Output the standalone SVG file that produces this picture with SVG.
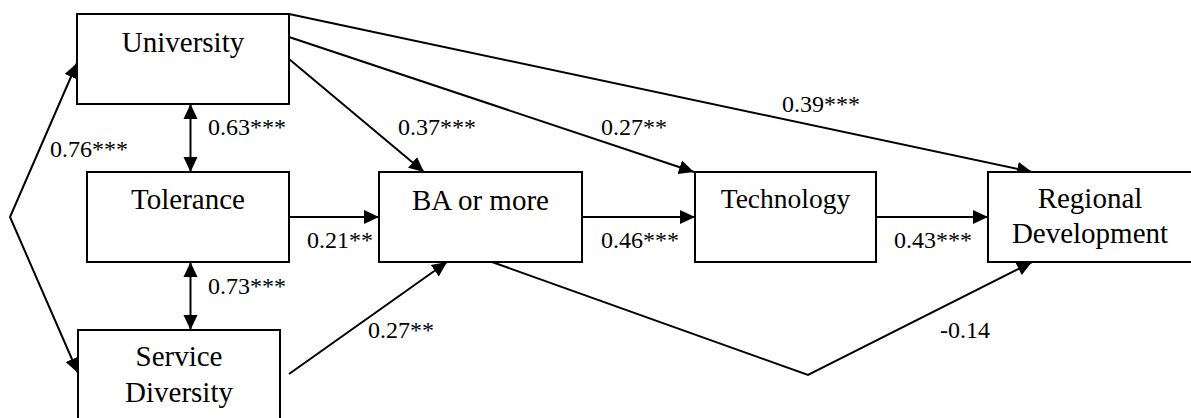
<svg xmlns="http://www.w3.org/2000/svg" width="1191" height="418" viewBox="0 0 1191 418">
<style>
.box{fill:#fff;stroke:#000;stroke-width:2}
.t{font-size:29px;fill:#000;text-anchor:middle}
.l{font-size:24px;fill:#000}
.c{fill:none;stroke:#000;stroke-width:2}
</style>
<defs>
<marker id="ah" markerUnits="userSpaceOnUse" markerWidth="16" markerHeight="16" refX="15" refY="7" orient="auto-start-reverse" viewBox="0 0 16 14">
<path d="M0,0 L15,7 L0,14 z" fill="#000"/>
</marker>
</defs>
<rect width="1191" height="418" fill="#fff"/>
<g id="connectors">
<line class="c" x1="289" y1="14" x2="1032" y2="172" marker-end="url(#ah)"/>
<line class="c" x1="289" y1="37" x2="694" y2="172" marker-end="url(#ah)"/>
<line class="c" x1="289" y1="59" x2="424" y2="172" marker-end="url(#ah)"/>
<line class="c" x1="289" y1="217" x2="379" y2="217" marker-end="url(#ah)"/>
<line class="c" x1="582" y1="217" x2="695" y2="217" marker-end="url(#ah)"/>
<line class="c" x1="876" y1="217" x2="988" y2="217" marker-end="url(#ah)"/>
<line class="c" x1="289" y1="374" x2="447" y2="262" marker-end="url(#ah)"/>
<polyline class="c" points="492,262 808,375 1032,262" marker-end="url(#ah)"/>
<line class="c" x1="190.5" y1="104" x2="190.5" y2="172" marker-start="url(#ah)" marker-end="url(#ah)"/>
<line class="c" x1="190.5" y1="262" x2="190.5" y2="330" marker-start="url(#ah)" marker-end="url(#ah)"/>
<polyline class="c" points="77,63 10,217 78,373" marker-start="url(#ah)" marker-end="url(#ah)"/>
</g>
<g font-family="Liberation Serif, Times New Roman, DejaVu Serif, serif">
<g id="university"><rect class="box" x="77" y="14" width="212" height="90"/><text class="t" x="183" y="52" font-family="Liberation Serif">University</text></g>
<g id="tolerance"><rect class="box" x="87" y="172" width="202" height="90"/><text class="t" x="188" y="209">Tolerance</text></g>
<g id="service"><rect class="box" x="78" y="330" width="202" height="100"/><text class="t" x="179" y="366">Service</text><text class="t" x="179" y="402">Diversity</text></g>
<g id="ba"><rect class="box" x="379" y="172" width="203" height="90"/><text class="t" x="480.5" y="210">BA or more</text></g>
<g id="technology"><rect class="box" x="695" y="172" width="181" height="90"/><text class="t" x="785.5" y="208" style="font-size:27.5px">Technology</text></g>
<g id="regional"><rect class="box" x="988" y="172" width="220" height="90"/><text class="t" x="1090" y="208">Regional</text><text class="t" x="1090" y="243">Development</text></g>
<g id="labels">
<text class="l" x="50" y="157">0.76***</text>
<text class="l" x="208" y="135">0.63***</text>
<text class="l" x="208" y="294">0.73***</text>
<text class="l" x="307" y="248">0.21**</text>
<text class="l" x="368" y="338">0.27**</text>
<text class="l" x="398" y="135">0.37***</text>
<text class="l" x="601" y="135">0.27**</text>
<text class="l" x="601" y="248">0.46***</text>
<text class="l" x="782" y="112">0.39***</text>
<text class="l" x="894" y="248">0.43***</text>
<text class="l" x="940" y="338">-0.14</text>
</g>
</g>
</svg>
